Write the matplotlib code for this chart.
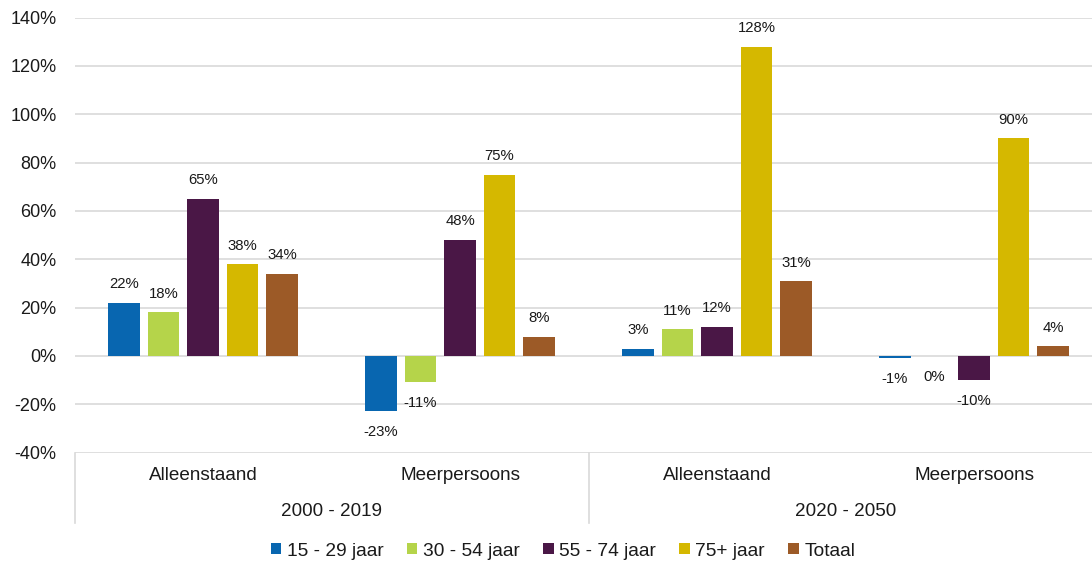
import matplotlib
matplotlib.use("Agg")
import matplotlib.pyplot as plt
import matplotlib.transforms as mtransforms
from matplotlib.patches import Patch
from matplotlib.ticker import FuncFormatter

plt.rcParams['font.family'] = ['Liberation Sans', 'DejaVu Sans']

categories = ["Alleenstaand", "Meerpersoons", "Alleenstaand", "Meerpersoons"]
periods = ["2000 - 2019", "2020 - 2050"]
series_names = ["15 - 29 jaar", "30 - 54 jaar", "55 - 74 jaar", "75+ jaar", "Totaal"]
v_15_29 = [22, -23, 3, -1]
v_30_54 = [18, -11, 11, 0]
v_55_74 = [65, 48, 12, -10]
v_75plus = [38, 75, 128, 90]
v_totaal = [34, 8, 31, 4]
yticks = [-40, -20, 0, 20, 40, 60, 80, 100, 120, 140]

series = [v_15_29, v_30_54, v_55_74, v_75plus, v_totaal]
colors = ['#0866B0', '#B5D44A', '#4A1746', '#D5B800', '#9C5A27']

W, H = 1092, 563
fig = plt.figure(figsize=(W / 100, H / 100), dpi=100)
ax = fig.add_axes([74.5 / W, 1 - 452.5 / H, 1028 / W, 435 / H])

step = 0.154
width = 0.1226
text_color = '#1a1a1a'
for i, (vals, col) in enumerate(zip(series, colors)):
    xs = [g + (i - 2) * step for g in range(len(categories))]
    ax.bar(xs, vals, width=width, color=col, zorder=3)
    for x, v in zip(xs, vals):
        if v > 0:
            ax.annotate(f"{v}%", (x, v), xytext=(0, 8.2), textcoords='offset points',
                        ha='center', va='bottom', fontsize=10.7, color=text_color)
        else:
            ax.annotate(f"{v}%", (x, v), xytext=(0, -10), textcoords='offset points',
                        ha='center', va='top', fontsize=10.7, color=text_color)

ax.set_xlim(-0.5, 3.5)
ax.set_ylim(-40, 140)
ax.set_yticks(yticks)
ax.yaxis.set_major_formatter(FuncFormatter(lambda v, p: f"{int(v)}%"))
ax.tick_params(axis='y', length=0, pad=13, labelsize=13, labelcolor=text_color)
ax.set_xticks([])
ax.grid(axis='y', color='#D9D9D9', linewidth=1.2, zorder=0)
for s in ax.spines.values():
    s.set_visible(False)

trans = mtransforms.blended_transform_factory(ax.transData, ax.transAxes)
for xsep in [-0.5, 1.5, 3.5]:
    ax.plot([xsep, xsep], [0, -0.1614], transform=trans, clip_on=False,
            color='#D9D9D9', linewidth=1.2)
for g, cat in enumerate(categories):
    ax.text(g, -0.054, cat, transform=trans, ha='center', va='center',
            fontsize=13.6, color=text_color)
for p, per in enumerate(periods):
    ax.text(0.5 + 2 * p, -0.1345, per, transform=trans, ha='center', va='center',
            fontsize=13.6, color=text_color)

handles = [Patch(facecolor=c, edgecolor='none', label=n) for c, n in zip(colors, series_names)]
fig.legend(handles=handles, loc='center', bbox_to_anchor=(563 / W, 1 - 551 / H),
           ncol=5, frameon=False, fontsize=13.8, handlelength=0.55, handleheight=0.55,
           handletextpad=0.3, columnspacing=1.2, borderpad=0, labelcolor=text_color)

fig.savefig("out.png", dpi=100)
